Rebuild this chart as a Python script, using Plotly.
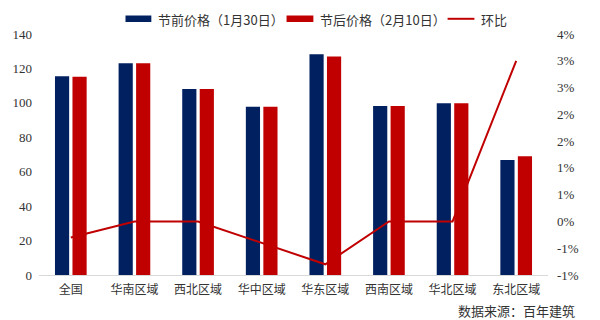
import plotly.graph_objects as go

categories = ["全国", "华南区域", "西北区域", "华中区域", "华东区域", "西南区域", "华北区域", "东北区域"]
before = [115.5, 123.0, 108.0, 97.8, 128.2, 98.2, 99.8, 66.8]
after = [115.2, 123.0, 108.0, 97.8, 126.9, 98.2, 99.8, 69.0]
mom = [-0.3, 0.0, 0.0, -0.4, -0.8, 0.0, 0.0, 3.0]

left_ticks = [0, 20, 40, 60, 80, 100, 120, 140]
right_tickvals = [-1.0, -0.5, 0.0, 0.5, 1.0, 1.5, 2.0, 2.5, 3.0, 3.5]
right_ticktext = ["-1%", "-1%", "0%", "1%", "1%", "2%", "2%", "3%", "3%", "4%"]

name_before = "节前价格（1月30日）"
name_after = "节后价格（2月10日）"
name_mom = "环比"
source = "数据来源：百年建筑"

BLUE = "#002060"
RED = "#C00000"
CJK = "Noto Sans CJK SC"
SERIF = "Liberation Serif"

fig = go.Figure()
fig.add_trace(go.Bar(x=categories, y=before, name=name_before, marker_color=BLUE,
                     marker_line_width=0, showlegend=False))
fig.add_trace(go.Bar(x=categories, y=after, name=name_after, marker_color=RED,
                     marker_line_width=0, showlegend=False))
fig.add_trace(go.Scatter(x=categories, y=mom, name=name_mom, yaxis="y2", mode="lines",
                         line=dict(color=RED, width=2), showlegend=False))

L, R, T, B = 36, 52, 34, 45
W, H = 600, 320
pw, ph = W - L - R, H - T - B

def px(x):
    return (x - L) / pw

def py(y):
    return (H - B - y) / ph

shapes = [
    dict(type="rect", xref="paper", yref="paper", x0=px(123), x1=px(149), y0=py(22), y1=py(15.5),
         fillcolor=BLUE, line_width=0),
    dict(type="rect", xref="paper", yref="paper", x0=px(285), x1=px(312), y0=py(22), y1=py(15.5),
         fillcolor=RED, line_width=0),
    dict(type="line", xref="paper", yref="paper", x0=px(447), x1=px(474), y0=py(18.8), y1=py(18.8),
         line=dict(color=RED, width=2)),
]
annotations = [
    dict(text=name_before, xref="paper", yref="paper", x=px(154), y=py(19), xanchor="left",
         yanchor="middle", showarrow=False, font=dict(family=CJK, size=13, color="#333333")),
    dict(text=name_after, xref="paper", yref="paper", x=px(317), y=py(19), xanchor="left",
         yanchor="middle", showarrow=False, font=dict(family=CJK, size=13, color="#333333")),
    dict(text=name_mom, xref="paper", yref="paper", x=px(479), y=py(19), xanchor="left",
         yanchor="middle", showarrow=False, font=dict(family=CJK, size=13, color="#333333")),
    dict(text=source, xref="paper", yref="paper", x=px(577), y=py(310), xanchor="right",
         yanchor="middle", showarrow=False, font=dict(family=CJK, size=13, color="#333333")),
]

fig.update_layout(
    width=W, height=H,
    margin=dict(l=L, r=R, t=T, b=B, pad=0),
    paper_bgcolor="white", plot_bgcolor="white",
    barmode="group", bargap=0.45, bargroupgap=0.19,
    showlegend=False,
    shapes=shapes, annotations=annotations,
    xaxis=dict(showgrid=False, showline=True, linecolor="#D9D9D9", linewidth=1,
               ticks="", tickfont=dict(family=CJK, size=12, color="#333333"), ticklabelstandoff=4),
    yaxis=dict(range=[0, 140], tickvals=left_ticks, showgrid=False, zeroline=False,
               showline=False, ticks="", tickfont=dict(family=SERIF, size=13, color="#333333"),
               ticklabelstandoff=6),
    yaxis2=dict(range=[-1, 3.5], overlaying="y", side="right", tickvals=right_tickvals,
                ticktext=right_ticktext, showgrid=False, zeroline=False, showline=False, ticks="",
                tickfont=dict(family=SERIF, size=13, color="#333333"), ticklabelstandoff=8),
)

fig.write_html("out.html")
